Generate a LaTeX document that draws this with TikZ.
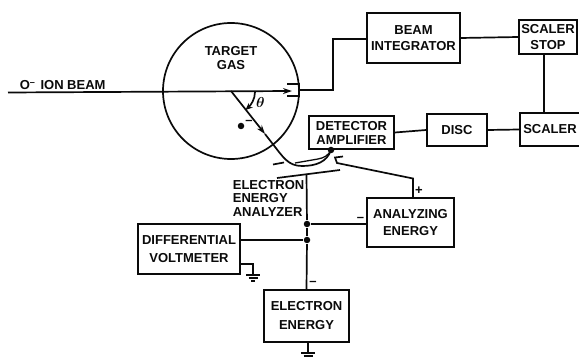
\documentclass[tikz,border=0pt]{standalone}
\usepackage{fontspec}
\usepackage{amsmath}
\setmainfont{Liberation Sans}
\usetikzlibrary{arrows.meta, positioning, calc}
\definecolor{inkblack}{RGB}{10, 10, 10}
\newcommand{\labelfont}{\fontsize{13}{14}\selectfont\bfseries}

\begin{document}
\begin{tikzpicture}[
    x=1pt, y=-1pt,
    line width=1.7pt, draw=inkblack, text=inkblack,
    blockbox/.style={draw=inkblack, line width=1.7pt, inner sep=0pt, align=center, font=\labelfont},
    plainlabel/.style={inner sep=0pt, align=center, font=\labelfont},
    signlabel/.style={inner sep=0pt, font=\labelfont},
    junction/.style={circle, fill=inkblack, inner sep=0pt, minimum size=6.5pt},
    groundsym/.pic={
        \draw[line width=2.2pt] (-7,0) -- (7,0);
        \draw[line width=2.2pt] (-4.5,3) -- (4.5,3);
        \draw[line width=2pt] (-2,6) -- (2,6);
    }
]
    \useasboundingbox (0,0) rectangle (579,358);

    % Draw target chamber with the beam passing through
    \node[draw=inkblack, circle, line width=1.7pt, minimum size=136pt, inner sep=0pt] (target) at (231,91) {};
    \node[plainlabel] (targetgas) at (231,58) {TARGET\\[0pt]GAS};
    \coordinate (beamstart) at (8,92.5);
    \coordinate (beamend) at (292,91);
    \coordinate (scatter) at (231,91);
    \draw[-{Stealth[length=9pt,width=6pt]}] (beamstart) -- (beamend);
    \node[plainlabel, anchor=west] (ionbeam) at (19,85) {O\textsuperscript{--}\hspace{5pt}ION BEAM};

    % Faraday cup at the end of the beam
    \coordinate (cuptop) at (287,84);
    \coordinate (cupbot) at (287,96);
    \coordinate (cupback) at (299.5,90);
    \draw (cuptop) -- (299.5,84) -- (299.5,96) -- (cupbot);

    % Blocks
    \node[blockbox, minimum width=93pt, minimum height=50pt] (beamint) at (413.5,38) {BEAM\\[2pt]INTEGRATOR};
    \node[blockbox, minimum width=58pt, minimum height=34pt] (scalerstop) at (548,37) {SCALER\\[2pt]STOP};
    \node[blockbox, minimum width=60pt, minimum height=33pt] (scaler) at (550,129.5) {SCALER};
    \node[blockbox, minimum width=60pt, minimum height=32pt] (disc) at (457,130) {DISC};
    \node[blockbox, minimum width=85pt, minimum height=33pt] (detamp) at (351.5,132.5) {DETECTOR\\[0pt]AMPLIFIER};
    \node[blockbox, minimum width=87pt, minimum height=49pt] (anaenergy) at (410.5,222.5) {ANALYZING\\[3pt]ENERGY};
    \node[blockbox, minimum width=102pt, minimum height=50pt] (diffvolt) at (189,249) {DIFFERENTIAL\\[4pt]VOLTMETER};
    \node[blockbox, minimum width=85pt, minimum height=52pt] (elecenergy) at (306.5,316) {ELECTRON\\[5pt]ENERGY};

    % Connections between blocks
    \draw (cupback) -- (333,90) -- (333,39) -- (beamint.west |- 0,39);
    \draw (beamint.east) -- (scalerstop.west);
    \draw (scalerstop.south -| 544,0) -- (scaler.north -| 544,0);
    \draw (detamp.east) -- (disc.west);
    \draw (disc.east) -- (scaler.west);

    % Electron path through the analyzer plates
    \coordinate (elecmid) at (265,134);
    \coordinate (elecexit) at (272,143);
    \coordinate (detmouth) at (331,150);
    \draw[-{Stealth[length=9pt,width=6pt]}] (scatter) -- (elecmid);
    \draw (elecmid) -- (elecexit) .. controls (283,157) and (288,166) .. (302,166) .. controls (316,166) and (327,162) .. (detmouth);
    \draw[line width=1.3pt] (295,163) -- (318,159) .. controls (324,158) and (329,155) .. (detmouth);
    \node[junction] (detblob) at (detmouth) {};
    \coordinate (dashleft) at (273,164.5);
    \coordinate (dashright) at (284,162.5);
    \draw (dashleft) -- (dashright);

    % Analyzer plates and their leads
    \coordinate (lowleft) at (277,178);
    \coordinate (lowright) at (340,170);
    \draw (lowleft) -- (lowright);
    \node[junction] (nodeana) at (307,224) {};
    \node[junction] (nodevolt) at (307,240) {};
    \coordinate (stemtop) at (306.5,174);
    \draw (stemtop) -- (nodeana) -- (nodevolt) -- (elecenergy.north);
    \draw (nodeana) -- (anaenergy.west |- nodeana);
    \draw (diffvolt.east |- nodevolt) -- (nodevolt);
    \coordinate (tiptop) at (343,156.5);
    \coordinate (tipbend) at (335,157.5);
    \coordinate (tipfoot) at (337,163);
    \coordinate (wirecorner) at (413,178.5);
    \draw (tiptop) -- (tipbend) -- (tipfoot) -- (wirecorner) -- (anaenergy.north -| wirecorner);
    \node[signlabel] (plussign) at (419,191) {+};
    \node[signlabel] (minusana) at (360.5,219) {--};
    \node[signlabel] (minuselec) at (313,283) {--};

    % Analyzer label
    \node[plainlabel, align=left, anchor=west] (analyzerlabel) at (232,198) {ELECTRON\\[-1pt]ENERGY\\[0pt]ANALYZER};

    % Angle and scattered electron
    \coordinate (arcstart) at (255,92);
    \coordinate (arcend) at (245.5,110);
    \draw[-{Stealth[length=7pt,width=6pt]}] (arcstart) .. controls (255,99) and (251,105) .. (arcend);
    \node[inner sep=0pt, font=\Large] (thetalabel) at (260.5,103) {$\boldsymbol{\theta}$};
    \node[junction] (electron) at (241,126) {};
    \node[signlabel] (electroncharge) at (249,122) {--};

    % Grounds
    \coordinate (groundone) at (253,275);
    \coordinate (groundtwo) at (308,353);
    \draw (diffvolt.east |- 0,264) -- (253,264) -- (groundone);
    \draw (elecenergy.south -| groundtwo) -- (groundtwo);
    \pic at (groundone) {groundsym};
    \pic at (groundtwo) {groundsym};
\end{tikzpicture}
\end{document}
